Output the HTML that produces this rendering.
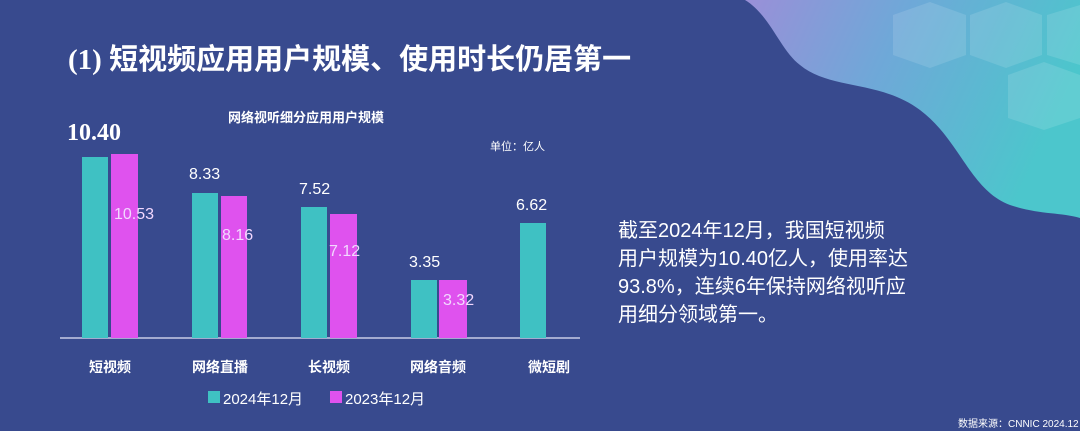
<!DOCTYPE html>
<html><head><meta charset="utf-8"><style>
body{margin:0;width:1080px;height:431px;overflow:hidden;background:#384a8e;font-family:"Liberation Sans","Noto Sans CJK SC",sans-serif;color:#fff}
.a{position:absolute;white-space:nowrap}
</style></head><body>
<svg class="a" style="left:0;top:0" width="1080" height="431">
<defs><linearGradient id="g" x1="0" y1="0" x2="1" y2="0.3"><stop offset="0" stop-color="#9a8fd8"/><stop offset="0.45" stop-color="#6fa8d8"/><stop offset="1" stop-color="#4cc6cc"/></linearGradient></defs>
<path d="M745 0 C770 15 780 50 800 65 C830 90 880 80 920 110 C960 140 970 190 1010 205 C1040 215 1060 212 1080 218 L1080 0 Z" fill="url(#g)"/>
<g fill="#ffffff" fill-opacity="0.12">
<polygon points="893,15 930,2 966,15 966,55 930,68 893,55"/>
<polygon points="970,15 1006,2 1042,15 1042,55 1006,68 970,55"/>
<polygon points="1047,15 1080,5 1080,65 1047,55"/>
<polygon points="1008,75 1044,62 1080,75 1080,118 1044,130 1008,118"/>
</g>
<line x1="60" y1="338" x2="580" y2="338" stroke="#c8cbe6" stroke-width="1.5"/>
<g fill="#3fc1c3">
<rect x="82" y="157" width="26" height="181"/><rect x="192" y="193" width="26" height="145"/><rect x="301" y="207" width="26" height="131"/><rect x="411" y="280" width="26" height="58"/><rect x="520" y="223" width="26" height="115"/>
</g>
<g fill="#df52ee">
<rect x="111" y="154" width="27" height="184"/><rect x="221" y="196" width="26" height="142"/><rect x="330" y="214" width="27" height="124"/><rect x="439" y="280" width="28" height="58"/>
</g>
<rect x="208" y="391" width="12" height="12" fill="#3fc1c3"/><rect x="330" y="391" width="12" height="12" fill="#df52ee"/>
</svg>
<div class="a" style="left:68px;top:36px;font-size:29px;font-weight:bold;font-family:'Liberation Serif','Noto Sans CJK SC',sans-serif">(1) 短视频应用用户规模、使用时长仍居第一</div>
<div class="a" style="left:228px;top:107px;font-size:13px;font-weight:bold">网络视听细分应用用户规模</div>
<div class="a" style="left:490px;top:138px;font-size:11px">单位：亿人</div>
<div class="a" style="left:67px;top:120px;font-size:24px;font-weight:bold;font-family:'Liberation Serif',serif">10.40</div>
<div class="a" style="left:114px;top:206px;font-size:16px;color:#f3d8ff">10.53</div>
<div class="a" style="left:189px;top:166px;font-size:16px">8.33</div>
<div class="a" style="left:222px;top:227px;font-size:16px;color:#f3d8ff">8.16</div>
<div class="a" style="left:299px;top:181px;font-size:16px">7.52</div>
<div class="a" style="left:329px;top:243px;font-size:16px;color:#f3d8ff">7.12</div>
<div class="a" style="left:409px;top:254px;font-size:16px">3.35</div>
<div class="a" style="left:443px;top:292px;font-size:16px;color:#f3d8ff">3.32</div>
<div class="a" style="left:516px;top:197px;font-size:16px">6.62</div>
<div class="a" style="left:89px;top:357px;font-size:14px;font-weight:bold">短视频</div>
<div class="a" style="left:192px;top:357px;font-size:14px;font-weight:bold">网络直播</div>
<div class="a" style="left:308px;top:357px;font-size:14px;font-weight:bold">长视频</div>
<div class="a" style="left:410px;top:357px;font-size:14px;font-weight:bold">网络音频</div>
<div class="a" style="left:528px;top:357px;font-size:14px;font-weight:bold">微短剧</div>
<div class="a" style="left:223px;top:388px;font-size:15px">2024年12月</div>
<div class="a" style="left:345px;top:388px;font-size:15px">2023年12月</div>
<div class="a" style="left:618px;top:217px;font-size:20px;line-height:28px">截至2024年12月，我国短视频<br>用户规模为10.40亿人，使用率达<br>93.8%，连续6年保持网络视听应<br>用细分领域第一。</div>
<div class="a" style="left:958px;top:415px;font-size:10px">数据来源：CNNIC 2024.12</div>
</body></html>
